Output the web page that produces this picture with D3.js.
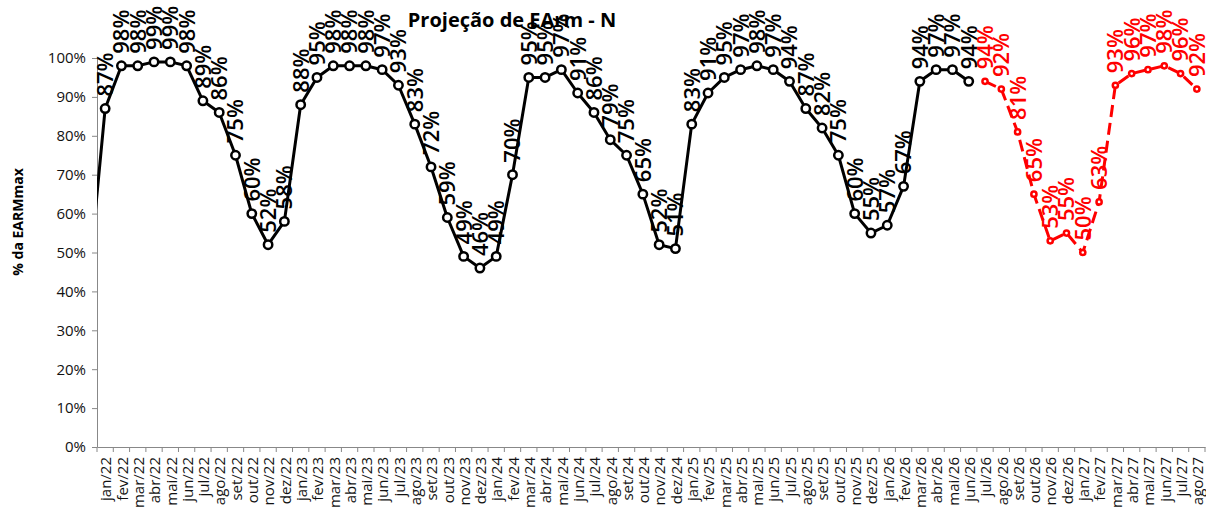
<!DOCTYPE html>
<html>
<head>
<meta charset="utf-8">
<script src="https://cdn.jsdelivr.net/npm/d3@7"></script>
<style>
  body { margin: 0; background: #fff; }
  svg { display: block; font-family: "Open Sans", sans-serif; }
</style>
</head>
<body>
<script>
var svgWidth = 1206, svgHeight = 517;

// months jan/22 .. ago/27
var categories = [
  "jan/22","fev/22","mar/22","abr/22","mai/22","jun/22","jul/22","ago/22","set/22","out/22","nov/22","dez/22",
  "jan/23","fev/23","mar/23","abr/23","mai/23","jun/23","jul/23","ago/23","set/23","out/23","nov/23","dez/23",
  "jan/24","fev/24","mar/24","abr/24","mai/24","jun/24","jul/24","ago/24","set/24","out/24","nov/24","dez/24",
  "jan/25","fev/25","mar/25","abr/25","mai/25","jun/25","jul/25","ago/25","set/25","out/25","nov/25","dez/25",
  "jan/26","fev/26","mar/26","abr/26","mai/26","jun/26","jul/26","ago/26","set/26","out/26","nov/26","dez/26",
  "jan/27","fev/27","mar/27","abr/27","mai/27","jun/27","jul/27","ago/27"
];

// verified history (jan/22 .. jun/26), %
var histValues = [
  87, 98, 98, 99, 99, 98, 89, 86, 75, 60, 52, 58,
  88, 95, 98, 98, 98, 97, 93, 83, 72, 59, 49, 46,
  49, 70, 95, 95, 97, 91, 86, 79, 75, 65, 52, 51,
  83, 91, 95, 97, 98, 97, 94, 87, 82, 75, 60, 55,
  57, 67, 94, 97, 97, 94
];
// value of dez/21 (only the segment into jan/22 shows)
var prevValue = 43;

// projection (jul/26 .. ago/27), %
var projValues = [94, 92, 81, 65, 53, 55, 50, 63, 93, 96, 97, 98, 96, 92];

var yTicks = [0, 10, 20, 30, 40, 50, 60, 70, 80, 90, 100];

var hist = histValues.map(function(v, i) { return {cat: categories[i], v: v}; });
var proj = projValues.map(function(v, i) { return {cat: categories[histValues.length + i], v: v}; });

var plot = {left: 97, right: 1205, top: 58, bottom: 447};

var svg = d3.select("body").append("svg").attr("width", svgWidth).attr("height", svgHeight);

var x = d3.scaleBand().domain(categories).range([plot.left, plot.right]).padding(0);
var bw = x.bandwidth();
var cx = function(d) { return x(d.cat) + bw / 2; };
var y = d3.scaleLinear().domain([0, 100]).range([plot.bottom, plot.top]);

// title
svg.append("text")
  .attr("x", 512).attr("y", 27)
  .attr("text-anchor", "middle")
  .attr("font-size", "20px").attr("font-weight", "bold")
  .text("Projeção de EArm - N");

// y axis label
svg.append("text")
  .attr("transform", "translate(23,222)rotate(-90)")
  .attr("text-anchor", "middle")
  .attr("font-size", "14px").attr("font-weight", "bold")
  .text("% da EARMmax");

// y axis
var yAxis = svg.append("g")
  .attr("transform", "translate(" + plot.left + ",0)")
  .call(d3.axisLeft(y).tickValues(yTicks).tickSize(5).tickSizeOuter(0).tickPadding(6)
        .tickFormat(function(d) { return d + "%"; }));
yAxis.select(".domain").attr("stroke", "#888");
yAxis.selectAll(".tick line").attr("stroke", "#888");
yAxis.selectAll(".tick text").attr("font-size", "15px").attr("fill", "#111")
  .attr("font-family", "Open Sans, sans-serif");

// x axis: labels at centers, ticks at boundaries
var xAxis = svg.append("g")
  .attr("transform", "translate(0," + plot.bottom + ")")
  .call(d3.axisBottom(x).tickSize(0).tickSizeOuter(0));
xAxis.select(".domain").attr("stroke", "#888");
xAxis.selectAll(".tick text")
  .attr("font-size", "15px").attr("fill", "#111")
  .attr("font-family", "Open Sans, sans-serif")
  .attr("text-anchor", "end")
  .attr("dy", "0.35em")
  .attr("transform", "translate(1,10)rotate(-90)")
  .attr("x", 0).attr("y", 0);

var bounds = categories.map(function(c) { return x(c); }).concat([x.range()[1]]);
svg.append("g").selectAll("line").data(bounds).enter().append("line")
  .attr("x1", function(d) { return d; }).attr("x2", function(d) { return d; })
  .attr("y1", plot.bottom).attr("y2", plot.bottom + 5)
  .attr("stroke", "#888");

// clip for the line coming in from dez/21
svg.append("clipPath").attr("id", "plotclip").append("rect")
  .attr("x", plot.left).attr("y", 0).attr("width", plot.right - plot.left + 5).attr("height", svgHeight);

var line = d3.line().x(function(d) { return d.x; }).y(function(d) { return y(d.v); });

var histPts = [{x: x(categories[0]) - bw / 2, v: prevValue}].concat(
  hist.map(function(d) { return {x: cx(d), v: d.v}; }));
svg.append("path")
  .attr("clip-path", "url(#plotclip)")
  .attr("d", line(histPts))
  .attr("fill", "none").attr("stroke", "#000").attr("stroke-width", 3)
  .attr("stroke-linejoin", "round");

svg.append("path")
  .attr("d", line(proj.map(function(d) { return {x: cx(d), v: d.v}; })))
  .attr("fill", "none").attr("stroke", "#ff0000").attr("stroke-width", 3)
  .attr("stroke-dasharray", "12,6");

// markers
svg.append("g").selectAll("circle").data(hist).enter().append("circle")
  .attr("cx", cx).attr("cy", function(d) { return y(d.v); })
  .attr("r", 4.2).attr("fill", "#fff").attr("stroke", "#000").attr("stroke-width", 2.5);

svg.append("g").selectAll("circle").data(proj).enter().append("circle")
  .attr("cx", cx).attr("cy", function(d) { return y(d.v); })
  .attr("r", 2.6).attr("fill", "#fff").attr("stroke", "#ff0000").attr("stroke-width", 2.5);

// data labels, rotated
function labels(data, color) {
  svg.append("g").selectAll("text").data(data).enter().append("text")
    .attr("transform", function(d) { return "translate(" + cx(d) + "," + (y(d.v) - 12) + ")rotate(-90)"; })
    .attr("dy", "0.36em")
    .attr("font-size", "22px")
    .attr("font-weight", "600")
    .attr("fill", color)
    .text(function(d) { return d.v + "%"; });
}
labels(hist, "#000");
labels(proj, "#ff0000");
</script>
</body>
</html>
